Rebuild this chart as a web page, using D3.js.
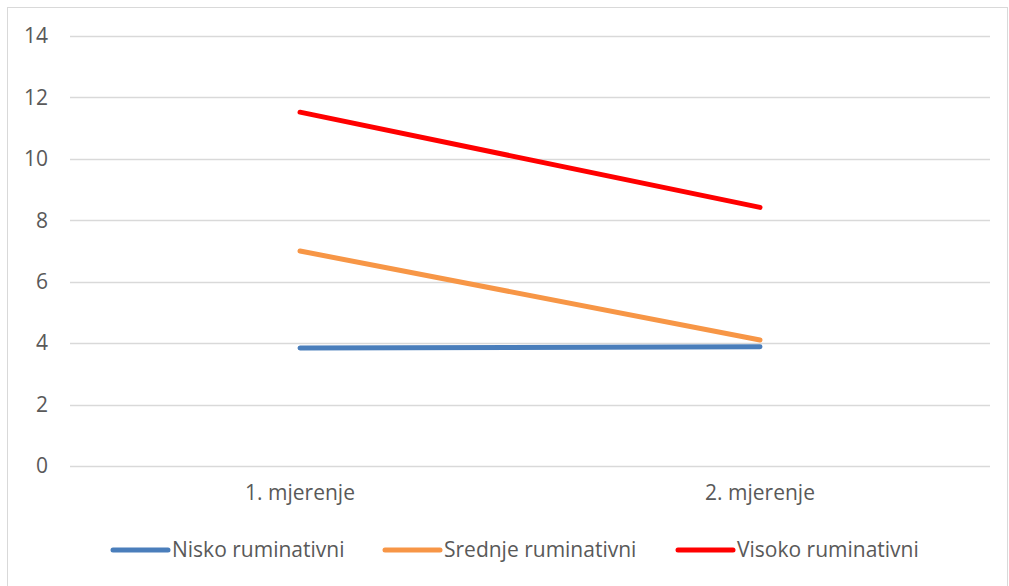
<!DOCTYPE html>
<html>
<head>
<meta charset="utf-8">
<script src="https://cdn.jsdelivr.net/npm/d3@7"></script>
<style>
  body { margin: 0; background: #fff; }
  text { font-family: "Open Sans", sans-serif; fill: #595959; }
</style>
</head>
<body>
<svg width="1009" height="586"></svg>
<script>
const categories = ['1. mjerenje', '2. mjerenje'];
const seriesNames = ['Nisko ruminativni', 'Srednje ruminativni', 'Visoko ruminativni'];
const seriesColors = ['#4a7ebb', '#f79646', '#ff0000'];
const nisko = [3.84, 3.88];
const srednje = [7.0, 4.1];
const visoko = [11.52, 8.42];
const yTicks = [0, 2, 4, 6, 8, 10, 12, 14];

const series = [nisko, srednje, visoko];
const fontSize = 21;
const fontFamily = '"Open Sans", sans-serif';

const svg = d3.select('svg');

// chart border
svg.append('rect')
    .attr('x', 7.5).attr('y', 7.5)
    .attr('width', 1000).attr('height', 600)
    .attr('fill', 'none')
    .attr('stroke', '#d9d9d9');

const xScale = d3.scaleBand()
    .domain(categories)
    .range([70, 990]);

const yScale = d3.scaleLinear()
    .domain([0, 14])
    .range([466, 36]);

// gridlines
svg.append('g').selectAll('line').data(yTicks)
    .enter().append('line')
    .attr('x1', 70).attr('x2', 990)
    .attr('y1', d => Math.round(yScale(d)) + 0.5)
    .attr('y2', d => Math.round(yScale(d)) + 0.5)
    .attr('stroke', '#d9d9d9')
    .attr('stroke-width', 1.3);

// y axis labels
const yAxis = d3.axisLeft(yScale).tickValues(yTicks).tickSize(0).tickPadding(0);
const yAxisG = svg.append('g')
    .attr('transform', 'translate(48,0)')
    .call(yAxis)
    .attr('font-size', fontSize)
    .attr('font-family', fontFamily);
yAxisG.select('.domain').remove();
yAxisG.selectAll('text').attr('fill', '#595959');

// x axis labels
const xAxis = d3.axisBottom(xScale).tickSize(0).tickPadding(0);
const xAxisG = svg.append('g')
    .attr('transform', 'translate(0,485)')
    .call(xAxis)
    .attr('font-size', fontSize)
    .attr('font-family', fontFamily);
xAxisG.select('.domain').remove();
xAxisG.selectAll('text').attr('fill', '#595959');

// lines
const line = d3.line()
    .x((d, i) => xScale(categories[i]) + xScale.bandwidth() / 2)
    .y(d => yScale(d));

svg.append('g').selectAll('path').data(series)
    .enter().append('path')
    .attr('d', line)
    .attr('fill', 'none')
    .attr('stroke', (d, i) => seriesColors[i])
    .attr('stroke-width', 5)
    .attr('stroke-linecap', 'round');

// legend
const legendX = [113, 385, 678];
const legend = svg.append('g').selectAll('g').data(seriesNames)
    .enter().append('g')
    .attr('transform', (d, i) => `translate(${legendX[i]},550)`);

legend.append('line')
    .attr('x1', 0).attr('x2', 55)
    .attr('stroke', (d, i) => seriesColors[i])
    .attr('stroke-width', 5)
    .attr('stroke-linecap', 'round');

legend.append('text')
    .attr('x', 59)
    .attr('dy', '0.35em')
    .attr('font-size', fontSize)
    .text(d => d);
</script>
</body>
</html>
